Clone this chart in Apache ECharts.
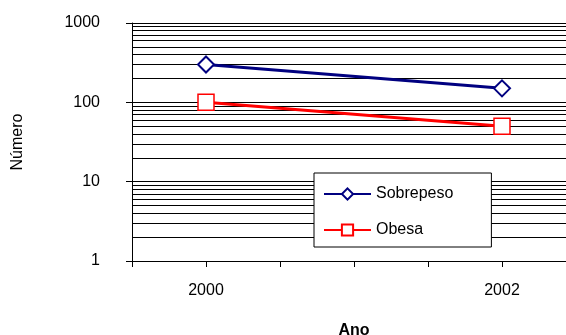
<!DOCTYPE html>
<html>
<head>
<meta charset="utf-8">
<script src="https://cdn.jsdelivr.net/npm/echarts@6/dist/echarts.min.js"></script>
<style>html,body{margin:0;padding:0;background:#fff;}#c{width:566px;height:335px;}</style>
</head>
<body>
<div id="c"></div>
<script>
const years = [2000, 2002];
const sobrepeso = [300, 150];
const obesa = [100, 50];
const xLabels = [2000, 2002];
const yMajor = [1, 10, 100, 1000];
const yMinor = [2,3,4,5,6,7,8,9,20,30,40,50,60,70,80,90,200,300,400,500,600,700,800,900];

const chart = echarts.init(document.getElementById('c'), null, {renderer: 'canvas'});
const font = 'Arial, "Liberation Sans", sans-serif';
chart.setOption({
  animation: false,
  textStyle: {fontFamily: font},
  grid: {left: 132, top: 23, bottom: 74, right: -10, containLabel: false, outerBoundsMode: 'none'},
  xAxis: {
    type: 'value', min: 1999.5, max: 2002.5, interval: 0.5,
    axisLine: {lineStyle: {color: '#000', width: 1}},
    axisTick: {show: true, length: 6, lineStyle: {color: '#000'}},
    splitLine: {show: false},
    axisLabel: {
      color: '#000', fontSize: 16, margin: 22, fontFamily: font,
      formatter: v => xLabels.indexOf(v) >= 0 ? String(v) : ''
    },
    name: 'Ano', nameLocation: 'middle', nameGap: 62,
    nameTextStyle: {color: '#000', fontSize: 16, fontWeight: 'bold', fontFamily: font}
  },
  yAxis: {
    type: 'log', logBase: 10, min: 1, max: 1000,
    axisLine: {show: true, lineStyle: {color: '#000', width: 1}},
    axisTick: {show: true, length: 6, lineStyle: {color: '#000'}},
    splitLine: {show: true, lineStyle: {color: '#000', width: 1}},
    axisLabel: {color: '#000', fontSize: 16, margin: 32, fontFamily: font,
      formatter: v => yMajor.indexOf(Math.round(v)) >= 0 ? String(Math.round(v)) : ''},
    name: 'Número', nameLocation: 'middle', nameGap: 106, nameRotate: 90,
    nameTextStyle: {color: '#000', fontSize: 16, fontFamily: font}
  },
  legend: {
    left: 314, top: 173, orient: 'vertical',
    backgroundColor: '#fff', borderColor: '#000', borderWidth: 1,
    padding: [13, 38, 9, 9], itemGap: 20, itemWidth: 47, itemHeight: 14,
    textStyle: {color: '#000', fontSize: 16, fontFamily: font},
    data: ['Sobrepeso', 'Obesa']
  },
  series: [
    {
      name: 'Sobrepeso', type: 'line',
      data: years.map((y, i) => [y, sobrepeso[i]]),
      symbol: 'diamond', symbolSize: 16,
      lineStyle: {color: '#000080', width: 3},
      itemStyle: {color: '#fff', borderColor: '#000080', borderWidth: 2},
      z: 5,
      markLine: {
        silent: true, symbol: 'none', label: {show: false},
        lineStyle: {color: '#000', width: 1, type: 'solid'},
        data: yMinor.map(v => ({yAxis: v})),
        z: 1
      }
    },
    {
      name: 'Obesa', type: 'line',
      data: years.map((y, i) => [y, obesa[i]]),
      symbol: 'rect', symbolSize: 16,
      lineStyle: {color: '#ff0000', width: 3},
      itemStyle: {color: '#fff', borderColor: '#ff0000', borderWidth: 1.5},
      z: 5
    }
  ]
});
</script>
</body>
</html>
